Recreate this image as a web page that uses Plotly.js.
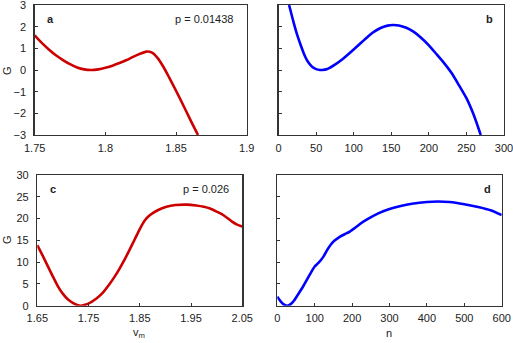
<!DOCTYPE html>
<html>
<head>
<meta charset="utf-8">
<script src="https://cdn.plot.ly/plotly-3.0.1.min.js"></script>
<style>
  html, body { margin: 0; padding: 0; background: #fff; }
  #chart { width: 513px; height: 343px; }
</style>
</head>
<body>
<div id="chart"></div>
<script>
// Panel a: G vs v_m, p = 0.01438
const aX = [1.75, 1.755, 1.76, 1.765, 1.77, 1.775, 1.78, 1.785, 1.79, 1.795, 1.80, 1.805, 1.81, 1.815, 1.82, 1.825, 1.829, 1.833, 1.837, 1.841, 1.845, 1.849, 1.853, 1.857, 1.861, 1.8655];
const aG = [1.6, 1.25, 0.95, 0.68, 0.46, 0.27, 0.12, 0.03, 0.0, 0.03, 0.1, 0.2, 0.32, 0.46, 0.62, 0.76, 0.85, 0.8, 0.55, 0.15, -0.33, -0.83, -1.35, -1.88, -2.42, -3.0];

// Panel b: G vs n
const bN = [14, 20, 25, 30, 35, 40, 45, 50, 55, 58, 65, 75, 85, 100, 115, 125, 135, 145, 152, 160, 170, 180, 190, 200, 210, 220, 230, 240, 250, 260, 269];
const bG = [3.0, 2.2, 1.6, 1.1, 0.65, 0.33, 0.14, 0.04, 0.0, 0.0, 0.05, 0.25, 0.5, 0.95, 1.42, 1.72, 1.93, 2.05, 2.08, 2.06, 1.95, 1.76, 1.48, 1.14, 0.74, 0.33, -0.13, -0.7, -1.3, -2.1, -3.0];

// Panel c: G vs v_m, p = 0.026
const cX = [1.65, 1.66, 1.67, 1.68, 1.69, 1.70, 1.71, 1.72, 1.728, 1.735, 1.745, 1.756, 1.766, 1.778, 1.79, 1.80, 1.81, 1.82, 1.83, 1.84, 1.85, 1.86, 1.87, 1.885, 1.902, 1.92, 1.941, 1.96, 1.975, 1.987, 2.0, 2.01, 2.02, 2.03, 2.04, 2.05];
const cG = [13.9, 11.6, 9.2, 6.8, 4.5, 2.7, 1.4, 0.6, 0.17, 0.0, 0.25, 0.9, 1.7, 3.0, 4.8, 6.5, 8.4, 10.5, 12.8, 15.2, 17.6, 19.6, 20.8, 21.9, 22.7, 23.1, 23.2, 23.0, 22.7, 22.3, 21.6, 21.0, 20.2, 19.3, 18.6, 18.2];

// Panel d: G vs n
const dN = [0, 8, 15, 22, 27, 35, 45, 55, 69, 80, 90, 100, 110, 123, 135, 150, 165, 180, 194, 210, 221, 240, 270, 300, 330, 360, 400, 430, 460, 500, 540, 570, 600];
const dG = [2.07, 1.1, 0.45, 0.08, 0.0, 0.3, 1.2, 2.5, 4.4, 6.1, 7.6, 9.0, 9.8, 11.2, 13.0, 14.7, 15.7, 16.4, 17.0, 18.0, 18.75, 19.8, 21.2, 22.2, 22.9, 23.4, 23.8, 23.9, 23.8, 23.3, 22.6, 21.9, 20.8];

// tick values
const gTicksTop = [-3, -2, -1, 0, 1, 2, 3];
const gTicksBot = [0, 5, 10, 15, 20, 25, 30];

const red = '#cc0000';
const blue = '#0000ff';
const fontFam = '"Liberation Sans", Arial, sans-serif';

function line(x, y, color, xa, ya) {
    return {
        x: x, y: y, xaxis: xa, yaxis: ya,
        mode: 'lines',
        line: { color: color, width: 2.6, shape: 'spline', smoothing: 0.6 },
        hoverinfo: 'skip',
    };
}

let data = [
    line(aX, aG, red, 'x', 'y'),
    line(bN, bG, blue, 'x2', 'y2'),
    line(cX, cG, red, 'x3', 'y3'),
    line(dN, dG, blue, 'x4', 'y4'),
];

// common axis style
function ax(extra) {
    return Object.assign({
        showline: true,
        mirror: true,
        linecolor: '#333',
        linewidth: 1.4,
        ticks: 'inside',
        ticklen: 3,
        tickcolor: '#333',
        showgrid: false,
        zeroline: false,
        fixedrange: true,
        ticklabeloverflow: 'allow',
        ticklabelstandoff: 2,
        tickfont: { family: fontFam, size: 11, color: '#222' },
    }, extra);
}

const rowTop = [0.6064, 0.9854];
const rowBot = [0.1088, 0.4898];

let layout = {
    width: 513,
    height: 343,
    margin: { l: 0, r: 0, t: 0, b: 0, pad: 0 },
    paper_bgcolor: '#fff',
    plot_bgcolor: '#fff',
    showlegend: false,
    font: { family: fontFam, size: 11, color: '#222' },
    xaxis: ax({ domain: [0.0676, 0.481], range: [1.75, 1.9], dtick: 0.05, tick0: 1.75, anchor: 'y' }),
    yaxis: ax({ domain: rowTop, range: [-3.002, 3.002], tickmode: 'array', tickvals: gTicksTop, anchor: 'x', ticklabelstandoff: 5 }),
    xaxis2: ax({ domain: [0.543, 0.9825], range: [0, 300], dtick: 50, anchor: 'y2' }),
    yaxis2: ax({ domain: rowTop, range: [-3.002, 3.002], tickmode: 'array', tickvals: gTicksTop, showticklabels: false, anchor: 'x2' }),
    xaxis3: ax({ domain: [0.0727, 0.4723], range: [1.65, 2.05], tickvals: [1.65, 1.75, 1.85, 1.95, 2.05], ticktext: ['1.65', '1.75', '1.85', '1.95', '2.05'], anchor: 'y3' }),
    yaxis3: ax({ domain: rowBot, range: [0, 30], tickmode: 'array', tickvals: gTicksBot, anchor: 'x3', ticklabelstandoff: 5 }),
    xaxis4: ax({ domain: [0.5405, 0.978], range: [0, 600], dtick: 100, anchor: 'y4' }),
    yaxis4: ax({ domain: rowBot, range: [0, 30], tickmode: 'array', tickvals: gTicksBot, showticklabels: false, anchor: 'x4' }),
    annotations: [
        { text: '<b>a</b>', x: 50 / 513, y: 1 - 19 / 343 },
        { text: 'p = 0.01438', x: 235 / 513, y: 1 - 19 / 343, xanchor: 'right' },
        { text: '<b>b</b>', x: 489 / 513, y: 1 - 19 / 343 },
        { text: '<b>c</b>', x: 53 / 513, y: 1 - 189 / 343 },
        { text: 'p = 0.026', x: 231 / 513, y: 1 - 189 / 343, xanchor: 'right' },
        { text: '<b>d</b>', x: 487 / 513, y: 1 - 189 / 343 },
        { text: 'G', x: 7 / 513, y: 1 - 71 / 343, textangle: -90 },
        { text: 'G', x: 7 / 513, y: 1 - 240 / 343, textangle: -90 },
        { text: 'v<sub>m</sub>', x: 139 / 513, y: 1 - 333 / 343 },
        { text: 'n', x: 389 / 513, y: 1 - 333 / 343 },
    ].map(a => Object.assign({
        xref: 'paper', yref: 'paper', showarrow: false,
        xanchor: 'center', yanchor: 'middle',
        font: { family: fontFam, size: 11, color: '#222' },
    }, a)),
};

Plotly.newPlot('chart', data, layout, { staticPlot: true, displayModeBar: false });
</script>
</body>
</html>
